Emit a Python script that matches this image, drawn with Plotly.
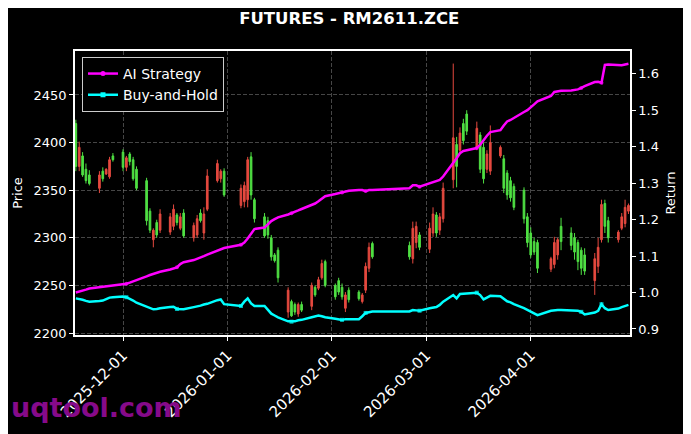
import plotly.graph_objects as go

dates = [
    "2025-11-17","2025-11-18","2025-11-19","2025-11-20","2025-11-21",
    "2025-11-24","2025-11-25","2025-11-26","2025-11-27","2025-11-28",
    "2025-12-01","2025-12-02","2025-12-03","2025-12-04","2025-12-05",
    "2025-12-08","2025-12-09","2025-12-10","2025-12-11","2025-12-12",
    "2025-12-15","2025-12-16","2025-12-17","2025-12-18","2025-12-19",
    "2025-12-22","2025-12-23","2025-12-24","2025-12-25","2025-12-26",
    "2025-12-29","2025-12-30","2025-12-31",
    "2026-01-05","2026-01-06","2026-01-07","2026-01-08","2026-01-09",
    "2026-01-12","2026-01-13","2026-01-14","2026-01-15","2026-01-16",
    "2026-01-19","2026-01-20","2026-01-21","2026-01-22","2026-01-23",
    "2026-01-26","2026-01-27","2026-01-28","2026-01-29","2026-01-30",
    "2026-02-02","2026-02-03","2026-02-04","2026-02-05","2026-02-06",
    "2026-02-09","2026-02-10","2026-02-11","2026-02-12","2026-02-13",
    "2026-02-24","2026-02-25","2026-02-26","2026-02-27",
    "2026-03-02","2026-03-03","2026-03-04","2026-03-05","2026-03-06",
    "2026-03-09","2026-03-10","2026-03-11","2026-03-12","2026-03-13",
    "2026-03-16","2026-03-17","2026-03-18","2026-03-19","2026-03-20",
    "2026-03-23","2026-03-24","2026-03-25","2026-03-26","2026-03-27",
    "2026-03-30","2026-03-31","2026-04-01","2026-04-02","2026-04-03",
    "2026-04-07","2026-04-08","2026-04-09","2026-04-10",
    "2026-04-13","2026-04-14","2026-04-15","2026-04-16","2026-04-17",
    "2026-04-20","2026-04-21","2026-04-22","2026-04-23","2026-04-24",
    "2026-04-27","2026-04-28","2026-04-29","2026-04-30",
]

open_ = [2420,2375,2386,2372,2366, 2352,2370,2367,2364,2386,
         2390,2374,2388,2382,2372, 2360,2328,2298,2316,2308,
         2306,2312,2324,2310,2326, 2300,2303,2326,2305,2330,
         2360,2362,2370,
         2334,2338,2340,2385,2340, 2322,2318,2300,2282,2287,
         2222,2233,2230,2220,2230, 2228,2248,2247,2258,2275,
         2250,2255,2248,2226,2245, 2243,2233,2245,2268,2294,
         2292,2278,2295,2303,
         2288,2305,2324,2308,2320, 2361,2398,2392,2420,2430,
         2395,2408,2395,2372,2370, 2386,2383,2368,2360,2354,
         2350,2322,2305,2296,2295, 2267,2272,2282,2312,
         2305,2300,2295,2287,2282, 2255,2270,2298,2336,2318,
         2298,2310,2315,2328]
high_ = [2424,2401,2390,2378,2371, 2370,2374,2373,2385,2389,
         2393,2386,2390,2385,2375, 2363,2331,2310,2319,2330,
         2326,2335,2326,2326,2330, 2316,2324,2330,2332,2372,
         2382,2372,2373,
         2356,2359,2385,2390,2342, 2326,2322,2303,2284,2290,
         2248,2235,2232,2232,2233, 2253,2250,2259,2277,2277,
         2252,2258,2252,2243,2248, 2245,2242,2274,2295,2296,
         2296,2317,2317,2306,
         2316,2332,2327,2326,2358, 2483,2406,2416,2425,2434,
         2422,2411,2400,2392,2418, 2397,2387,2371,2364,2357,
         2353,2326,2311,2300,2298, 2280,2301,2300,2321,
         2311,2305,2298,2290,2289, 2284,2300,2340,2340,2322,
         2308,2326,2340,2336]
low_ = [2370,2370,2364,2357,2355, 2347,2359,2366,2362,2380,
        2370,2370,2376,2360,2350, 2313,2305,2290,2300,2305,
        2303,2308,2313,2308,2300, 2296,2300,2316,2298,2328,
        2358,2358,2343,
        2331,2332,2332,2340,2316, 2300,2299,2276,2274,2253,
        2216,2217,2219,2217,2222, 2224,2238,2245,2256,2248,
        2235,2240,2235,2222,2232, 2234,2231,2242,2264,2278,
        2277,2273,2289,2287,
        2284,2301,2301,2303,2316, 2352,2353,2388,2398,2408,
        2392,2368,2357,2368,2366, 2384,2347,2340,2338,2329,
        2315,2290,2279,2282,2263, 2264,2268,2277,2287,
        2287,2277,2266,2261,2261, 2240,2263,2295,2305,2295,
        2295,2308,2311,2325]
close_ = [2375,2395,2366,2360,2357, 2366,2362,2372,2382,2382,
          2374,2384,2380,2362,2352, 2318,2308,2308,2303,2325,
          2322,2330,2316,2322,2302, 2313,2320,2318,2325,2365,
          2378,2370,2345,
          2352,2355,2382,2345,2320, 2302,2303,2280,2276,2258,
          2245,2218,2222,2230,2224, 2250,2240,2256,2273,2250,
          2238,2243,2238,2240,2235, 2236,2240,2270,2290,2280,
          2280,2310,2312,2290,
          2310,2325,2305,2322,2352, 2405,2375,2410,2402,2412,
          2415,2372,2362,2388,2400, 2395,2352,2345,2342,2332,
          2320,2295,2282,2285,2268, 2278,2295,2298,2296,
          2292,2285,2275,2268,2265, 2278,2290,2335,2312,2300,
          2306,2322,2332,2334]

ai_strategy = [1.000,1.002,1.005,1.008,1.011, 1.014,1.016,1.017,1.018,1.019,
               1.022,1.024,1.027,1.030,1.034, 1.044,1.048,1.051,1.054,1.057,
               1.063,1.066,1.069,1.078,1.083, 1.089,1.092,1.096,1.100,1.104,
               1.115,1.117,1.122,
               1.131,1.137,1.148,1.160,1.174, 1.178,1.188,1.196,1.201,1.206,
               1.214,1.217,1.221,1.225,1.229, 1.240,1.244,1.250,1.257,1.264,
               1.270,1.272,1.274,1.277,1.279, 1.281,1.281,1.278,1.281,1.281,
               1.286,1.294,1.294,1.290,
               1.299,1.303,1.306,1.309,1.318, 1.354,1.368,1.382,1.388,1.390,
               1.396,1.405,1.418,1.430,1.440, 1.445,1.458,1.469,1.473,1.479,
               1.495,1.500,1.507,1.516,1.524, 1.539,1.550,1.552,1.553,
               1.554,1.555,1.557,1.561,1.566, 1.577,1.578,1.575,1.624,1.625,
               1.622,1.623,1.625,1.627]
buy_hold = [0.984,0.983,0.980,0.977,0.975, 0.977,0.978,0.982,0.986,0.987,
            0.989,0.987,0.983,0.978,0.972, 0.962,0.957,0.954,0.955,0.957,
            0.960,0.961,0.955,0.955,0.954, 0.960,0.961,0.964,0.967,0.969,
            0.979,0.981,0.968,
            0.963,0.975,0.984,0.970,0.963, 0.963,0.952,0.942,0.937,0.932,
            0.921,0.920,0.921,0.924,0.925, 0.932,0.934,0.937,0.935,0.932,
            0.928,0.926,0.925,0.927,0.927, 0.927,0.935,0.944,0.946,0.948,
            0.948,0.952,0.951,0.950,
            0.957,0.958,0.960,0.966,0.975, 0.993,0.984,0.996,0.997,0.997,
            0.9996,0.993,0.981,0.986,0.991, 0.990,0.983,0.976,0.973,0.968,
            0.957,0.952,0.948,0.943,0.938, 0.950,0.952,0.952,0.952,
            0.951,0.951,0.950,0.947,0.940, 0.945,0.950,0.968,0.957,0.952,
            0.956,0.960,0.964,0.966]

marker_dates = ["2025-12-02","2025-12-17","2026-01-05","2026-01-20","2026-02-04",
                "2026-02-11","2026-02-27","2026-03-16","2026-04-16","2026-04-22"]

month_ticks = ["2025-12-01","2026-01-01","2026-02-01","2026-03-01","2026-04-01"]
price_ticks = [2200,2250,2300,2350,2400,2450]
return_ticks = [0.9,1.0,1.1,1.2,1.3,1.4,1.5,1.6]

RED = "#e5493f"
GREEN = "#4fe043"
MAGENTA = "#ff00ff"
CYAN = "#00ffff"
FONT = "DejaVu Sans"

# page body has an 8px default margin: figure drawn 8px smaller
W, H = 683, 426

msize = [4 if d in marker_dates else 0 for d in dates]

fig = go.Figure()
fig.add_trace(go.Candlestick(
    x=dates, open=open_, high=high_, low=low_, close=close_,
    increasing=dict(line=dict(color=RED, width=1), fillcolor=RED),
    decreasing=dict(line=dict(color=GREEN, width=1), fillcolor=GREEN),
    whiskerwidth=0, showlegend=False, name="Price", yaxis="y", hoverinfo="skip"))

fig.add_trace(go.Scatter(x=dates, y=ai_strategy, mode="lines+markers", yaxis="y2",
                         line=dict(color=MAGENTA, width=2.5),
                         marker=dict(size=msize, color=MAGENTA, symbol="circle",
                                     line=dict(width=0)),
                         showlegend=False))
fig.add_trace(go.Scatter(x=dates, y=buy_hold, mode="lines+markers", yaxis="y2",
                         line=dict(color=CYAN, width=2.5),
                         marker=dict(size=msize, color=CYAN, symbol="square",
                                     line=dict(width=0)),
                         showlegend=False))
# legend entries
fig.add_trace(go.Scatter(x=[None], y=[None], mode="lines+markers", yaxis="y2",
                         name="AI Strategy", line=dict(color=MAGENTA, width=2.5),
                         marker=dict(size=5, color=MAGENTA, symbol="circle", line=dict(width=0))))
fig.add_trace(go.Scatter(x=[None], y=[None], mode="lines+markers", yaxis="y2",
                         name="Buy-and-Hold", line=dict(color=CYAN, width=2.5),
                         marker=dict(size=5, color=CYAN, symbol="square", line=dict(width=0))))

grid = "rgba(140,140,140,0.5)"
fig.update_layout(
    width=W, height=H,
    paper_bgcolor="black", plot_bgcolor="black",
    margin=dict(l=67, r=61, t=43, b=99, autoexpand=False),
    font=dict(family=FONT, size=13, color="white"),
    title=dict(text="<b>FUTURES - RM2611.ZCE</b>", x=(345.5 - 8) / W, xanchor="center",
               y=1 - 10 / H, yanchor="middle", yref="container", xref="paper",
               font=dict(family=FONT, size=16.5, color="white")),
    xaxis=dict(type="date", range=["2025-11-16 18:00", "2026-04-30 11:00"],
               rangeslider=dict(visible=False),
               tickvals=month_ticks, ticktext=month_ticks, tickangle=-45,
               showgrid=True, gridcolor=grid, griddash="4px,2px", gridwidth=0.7,
               showline=True, linecolor="white", linewidth=1.5, mirror=True,
               ticks="outside", ticklen=4, tickcolor="white",
               tickfont=dict(size=15, color="white"), zeroline=False),
    yaxis=dict(range=[2197.9, 2496.2], tickvals=price_ticks,
               title=dict(text="Price", font=dict(size=13, color="white"), standoff=8),
               showgrid=True, gridcolor=grid, griddash="4px,2px", gridwidth=0.7,
               showline=True, linecolor="white", linewidth=1.5, mirror=True,
               ticks="outside", ticklen=4, tickcolor="white",
               tickfont=dict(size=13, color="white"), zeroline=False),
    yaxis2=dict(range=[0.8835, 1.6622], tickvals=return_ticks, tickformat=".1f",
                overlaying="y", side="right", showgrid=False,
                title=dict(text="Return", font=dict(size=13, color="white"), standoff=8),
                showline=True, linecolor="white", linewidth=1.5,
                ticks="outside", ticklen=4, tickcolor="white",
                tickfont=dict(size=13, color="white"), zeroline=False),
    legend=dict(x=0.0126, y=0.979, xanchor="left", yanchor="top",
                bgcolor="black", bordercolor="#cccccc", borderwidth=1,
                font=dict(size=14, color="white"), itemwidth=30,
                tracegroupgap=0),
    annotations=[dict(text="<b>uqtool.com</b>", xref="paper", yref="paper",
                      x=(9 - 75) / 555, y=(335 - 407) / 284, xanchor="left", yanchor="middle",
                      showarrow=False,
                      font=dict(family=FONT, size=27, color="#860a8a"))],
)

fig.write_html("out.html")
